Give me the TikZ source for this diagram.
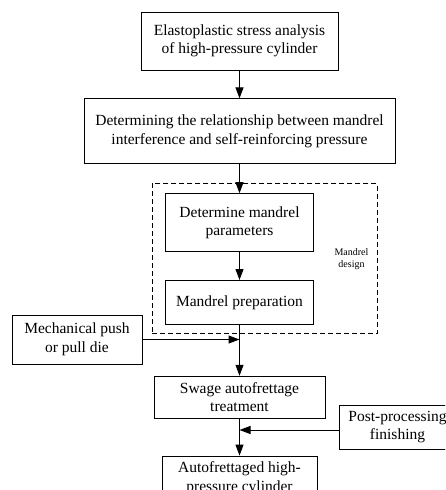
\documentclass[tikz,border=0pt]{standalone}
\usepackage{fontspec}
\setmainfont{Liberation Serif}
\usetikzlibrary{positioning, arrows.meta, calc, fit}

\begin{document}
\begin{tikzpicture}[
  x=1pt, y=1pt,
  box/.style={draw, line width=0.8pt, inner sep=0pt, align=center,
              font=\fontsize{15.5}{18.5}\selectfont},
  dashbox/.style={draw, line width=0.8pt, dash pattern=on 5pt off 3pt,
                  inner sep=0pt},
  >={Triangle[length=11pt, width=8pt]}
]
  \useasboundingbox (0,0) rectangle (445,-490);
  \clip (0,0) rectangle (445,-490);

  % Main chain
  \node[box, minimum width=197pt, minimum height=58pt] (stress) at (239.5,-41)
    {Elastoplastic stress analysis\\of high-pressure cylinder};
  \node[box, minimum width=311pt, minimum height=65pt, below=28pt of stress] (relation)
    {Determining the relationship between mandrel\\interference and self-reinforcing pressure};
  \node[box, minimum width=148pt, minimum height=58pt, below=29pt of relation] (param)
    {Determine mandrel\\parameters};
  \node[box, minimum width=148pt, minimum height=44pt, below=28pt of param] (prep)
    {Mandrel preparation};
  \node[box, minimum width=171pt, minimum height=42pt, below=51pt of prep] (swage)
    {Swage autofrettage\\treatment};
  \node[box, minimum width=155pt, minimum height=44pt, below=37pt of swage] (result)
    {Autofrettaged high-\\pressure cylinder};

  % Side inputs
  \node[box, minimum width=130pt, minimum height=49pt] (die) at (77,-339.5)
    {Mechanical push\\or pull die};
  \node[box, minimum width=117pt, minimum height=44pt] (post) at (397.5,-427)
    {Post-processing\\finishing};

  % Mandrel design group
  \node[align=center, font=\fontsize{10}{12}\selectfont] (mlabel) at (351.5,-259)
    {Mandrel\\design};
  \coordinate (gtl) at ($(param.north west)+(-13,10)$);
  \coordinate (gbr) at ($(prep.south east)+(63,-9)$);
  \node[dashbox, fit=(gtl)(gbr)] (group) {};

  % Joins
  \coordinate (jdie) at (die.east -| prep.south);
  \coordinate (jpost) at ([yshift=-3pt]post.west -| swage.south);

  % Arrows
  \draw[->, line width=1pt] (stress) -- (relation);
  \draw[->, line width=1pt] (relation) -- (param);
  \draw[->, line width=1pt] (param) -- (prep);
  \draw[->, line width=1pt] (prep) -- (swage);
  \draw[->, line width=1pt] (die) -- (jdie);
  \draw[->, line width=1pt] (swage) -- (result);
  \draw[->, line width=1pt] ([yshift=-3pt]post.west) -- (jpost);
\end{tikzpicture}
\end{document}
